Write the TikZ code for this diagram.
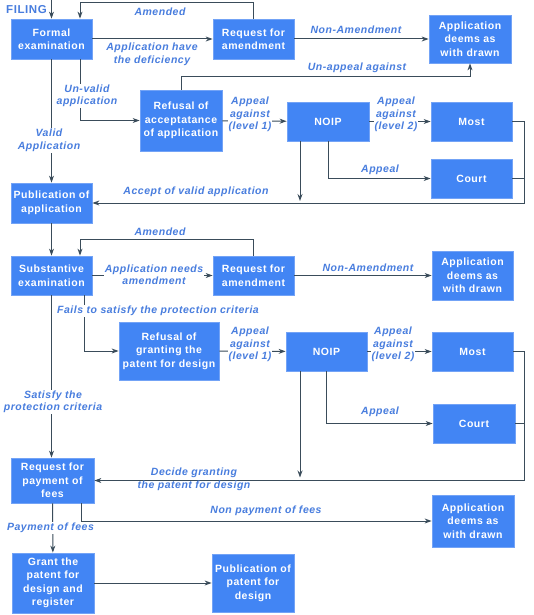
\documentclass[tikz,border=0pt]{standalone}
\usepackage{fontspec}
\setmainfont{Liberation Sans}
\newfontfamily\bxf{Liberation Sans}[LetterSpace=5]
\usetikzlibrary{arrows.meta}
\definecolor{boxblue}{RGB}{66,133,244}
\definecolor{boxedge}{RGB}{115,163,246}
\definecolor{lblblue}{RGB}{72,125,222}
\definecolor{linec}{RGB}{58,76,90}
\begin{document}
\begin{tikzpicture}[x=1pt,y=-1pt,
  box/.style={draw=boxedge, line width=0.8pt, fill=boxblue, text=white, font=\bxf\bfseries\fontsize{10.5}{13.5}\selectfont, align=center, inner sep=1pt},
  lbl/.style={text=lblblue, font=\bxf\bfseries\itshape\fontsize{10.5}{12.5}\selectfont, align=center, inner sep=1pt},
  wl/.style={lbl, fill=white},
  arr/.style={draw=linec, line width=1pt, -{Stealth[length=7pt,width=5pt]}},
  ln/.style={draw=linec, line width=1pt}]
\useasboundingbox[fill=white] (0,0) rectangle (534,615);
% boxes
\node[box, minimum width=81pt, minimum height=40pt] (fe) at (51.5,39) {Formal\\examination};
\node[box, minimum width=81pt, minimum height=40pt] (ra1) at (253.5,39) {Request for\\amendment};
\node[box, minimum width=82pt, minimum height=48pt] (wd1) at (470,39) {Application\\deems as\\with drawn};
\node[box, minimum width=82pt, minimum height=61pt] (rf1) at (181,120.5) {Refusal of\\acceptatance\\of application};
\node[box, minimum width=82pt, minimum height=39pt] (noip1) at (328,121.5) {NOIP};
\node[box, minimum width=81pt, minimum height=39pt] (most1) at (471.5,121.5) {Most};
\node[box, minimum width=81pt, minimum height=39pt] (court1) at (471.5,178.5) {Court};
\node[box, minimum width=81pt, minimum height=40pt] (pub1) at (51.5,203) {Publication of\\application};
\node[box, minimum width=81pt, minimum height=39pt] (se) at (51.5,275.5) {Substantive\\examination};
\node[box, minimum width=81pt, minimum height=39pt] (ra2) at (253.5,275.5) {Request for\\amendment};
\node[box, minimum width=81pt, minimum height=49pt] (wd2) at (472.5,275.5) {Application\\deems as\\with drawn};
\node[box, minimum width=100pt, minimum height=58pt] (rf2) at (169,351) {Refusal of\\granting the\\patent for design};
\node[box, minimum width=81pt, minimum height=39pt] (noip2) at (326.5,351.5) {NOIP};
\node[box, minimum width=81pt, minimum height=39pt] (most2) at (472.5,351.5) {Most};
\node[box, minimum width=82pt, minimum height=39pt] (court2) at (474,423.5) {Court};
\node[box, minimum width=83pt, minimum height=45pt] (rp) at (52.5,480.5) {Request for\\payment of\\fees};
\node[box, minimum width=82pt, minimum height=52pt] (wd3) at (473,521) {Application\\deems as\\with drawn};
\node[box, minimum width=82pt, minimum height=60pt] (gr) at (53,583) {Grant the\\patent for\\design and\\register};
\node[box, minimum width=82pt, minimum height=58pt] (pp) at (253,583) {Publication of\\patent for\\design};
% coordinates
\coordinate (start) at (51.5,0);
\coordinate (r1) at (524,203);
\coordinate (r2) at (524,480.5);
% connectors top part
\draw[arr] (start) -- (fe.north);
\draw[arr] (ra1.north) -- ++(0,-16) -| ([xshift=28.5pt]fe.north);
\draw[arr] (fe) -- (ra1);
\draw[arr] (ra1) -- (wd1);
\draw[arr] (rf1.north) -- ++(0,-13) -| (wd1.south);
\draw[arr] ([xshift=28.5pt]fe.south) |- (rf1.west);
\draw[arr] (fe.south) -- (pub1.north);
\draw[arr] (rf1) -- (noip1);
\draw[arr] (noip1) -- (most1);
\draw[arr] (noip1.south) |- (court1.west);
\draw[arr, shorten >=2pt] ([xshift=-28pt]noip1.south) -- ([xshift=-28pt]noip1.south |- r1);
\draw[arr] (most1.east) -| (r1) -- (pub1.east);
\draw[ln] (court1.east) -- (court1.east -| r1);
% middle part
\draw[arr] (pub1) -- (se);
\draw[arr] (ra2.north) -- ++(0,-16) -| ([xshift=28.5pt]se.north);
\draw[arr] (se) -- (ra2);
\draw[arr] (ra2) -- (wd2);
\draw[arr] ([xshift=32.5pt]se.south) |- (rf2.west);
\draw[arr] (se.south) -- (se.south |- rp.north);
\draw[arr] (rf2) -- (noip2);
\draw[arr] (noip2) -- (most2);
\draw[arr] (noip2.south) |- (court2.west);
\draw[arr, shorten >=3pt] ([xshift=-26.5pt]noip2.south) -- ([xshift=-26.5pt]noip2.south |- r2);
\draw[arr] (most2.east) -| (r2) -- (rp.east);
\draw[ln] (court2.east) -- (court2.east -| r2);
% bottom part
\draw[arr] ([xshift=28.5pt]rp.south) |- (wd3.west);
\draw[arr] (rp) -- (gr);
\draw[arr] (gr) -- (pp);
% labels
\node[lbl, font=\bxf\bfseries\fontsize{11.5}{13}\selectfont, anchor=east] (lfiling) at (48,10) {FILING};
\node[lbl] (l1) at (160,12) {Amended};
\node[wl] (l2) at (152,54.5) {Application have\\the deficiency};
\node[lbl] (l3) at (356,30) {Non-Amendment};
\node[lbl] (l4) at (357,68) {Un-appeal against};
\node[wl] (l5) at (87,96) {Un-valid\\application};
\node[wl] (l6) at (49,140.5) {Valid\\Application};
\node[wl] (l7) at (250,114.5) {Appeal\\against\\(level 1)};
\node[wl] (l8) at (396,114.5) {Appeal\\against\\(level 2)};
\node[lbl] (l9) at (380,170) {Appeal};
\node[lbl] (l10) at (196,192) {Accept of valid application};
\node[lbl] (l11) at (160,232) {Amended};
\node[wl] (l12) at (154,274.5) {Application needs\\amendment};
\node[lbl] (l13) at (368,268) {Non-Amendment};
\node[wl] (l14) at (158,311) {Fails to satisfy the protection criteria};
\node[wl] (l15) at (53,402) {Satisfy the\\protection criteria};
\node[wl] (l16) at (250,344.5) {Appeal\\against\\(level 1)};
\node[wl] (l17) at (393,344.5) {Appeal\\against\\(level 2)};
\node[lbl] (l18) at (380,412) {Appeal};
\node[lbl] (l19) at (194,479.5) {Decide granting\\the patent for design};
\node[lbl] (l20) at (266,511) {Non payment of fees};
\node[wl] (l21) at (50.5,528) {Payment of fees};
\end{tikzpicture}
\end{document}
